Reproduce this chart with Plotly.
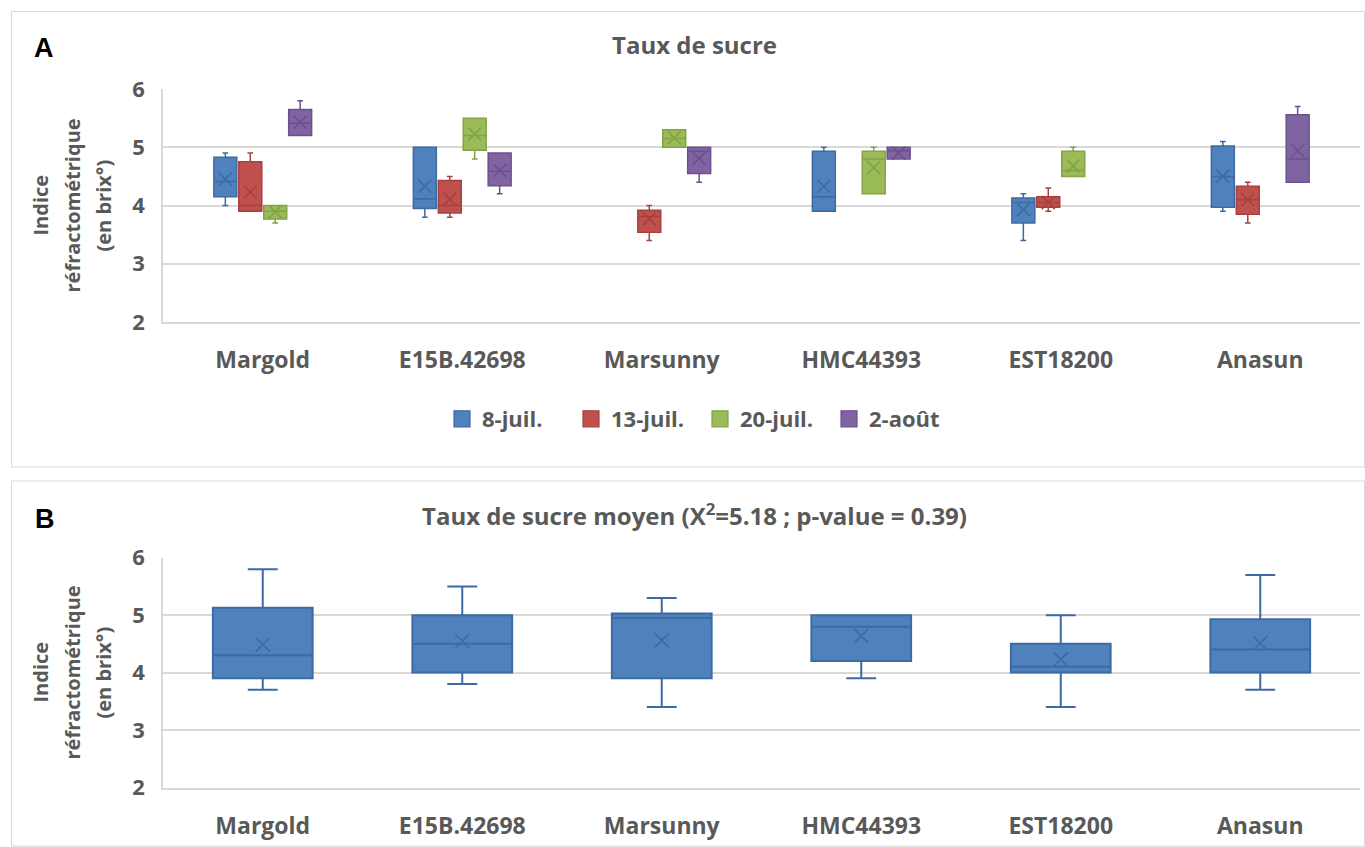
import plotly.graph_objects as go

# Cultivars (x categories)
cultivars = ["Margold", "E15B.42698", "Marsunny", "HMC44393", "EST18200", "Anasun"]

# Panel A: one series per sampling date (brix° summary statistics)
dates = ["8-juil.", "13-juil.", "20-juil.", "2-août"]

juil8_x = ["Margold", "E15B.42698", "HMC44393", "EST18200", "Anasun"]
juil8_min = [4.0, 3.8, 3.9, 3.4, 3.9]
juil8_q1 = [4.15, 3.95, 3.9, 3.7, 3.97]
juil8_med = [4.41, 4.11, 4.15, 4.05, 4.5]
juil8_q3 = [4.83, 5.0, 4.93, 4.13, 5.02]
juil8_max = [4.9, 5.0, 5.0, 4.2, 5.1]
juil8_mean = [4.45, 4.33, 4.33, 3.93, 4.5]

juil13_x = ["Margold", "E15B.42698", "Marsunny", "EST18200", "Anasun"]
juil13_min = [3.9, 3.8, 3.4, 3.9, 3.7]
juil13_q1 = [3.9, 3.87, 3.54, 3.97, 3.85]
juil13_med = [4.0, 4.0, 3.81, 4.05, 4.1]
juil13_q3 = [4.75, 4.43, 3.92, 4.15, 4.33]
juil13_max = [4.9, 4.5, 4.0, 4.3, 4.4]
juil13_mean = [4.23, 4.11, 3.77, 4.05, 4.1]

juil20_x = ["Margold", "E15B.42698", "Marsunny", "HMC44393", "EST18200"]
juil20_min = [3.7, 4.8, 5.0, 4.2, 4.5]
juil20_q1 = [3.77, 4.95, 5.0, 4.2, 4.5]
juil20_med = [3.9, 5.2, 5.15, 4.8, 4.6]
juil20_q3 = [4.0, 5.5, 5.3, 4.93, 4.93]
juil20_max = [4.0, 5.5, 5.3, 5.0, 5.0]
juil20_mean = [3.89, 5.23, 5.16, 4.65, 4.68]

aout2_x = ["Margold", "E15B.42698", "Marsunny", "HMC44393", "Anasun"]
aout2_min = [5.2, 4.2, 4.4, 4.8, 4.4]
aout2_q1 = [5.2, 4.34, 4.55, 4.8, 4.4]
aout2_med = [5.41, 4.59, 4.93, 4.94, 4.8]
aout2_q3 = [5.65, 4.9, 5.0, 5.0, 5.56]
aout2_max = [5.8, 4.9, 5.0, 5.0, 5.7]
aout2_mean = [5.43, 4.6, 4.81, 4.9, 4.94]

# Panel B: all dates pooled per cultivar
moy_min = [3.7, 3.8, 3.4, 3.9, 3.4, 3.7]
moy_q1 = [3.9, 4.0, 3.9, 4.2, 4.0, 4.0]
moy_med = [4.3, 4.5, 4.95, 4.8, 4.1, 4.4]
moy_q3 = [5.13, 5.0, 5.03, 5.0, 4.5, 4.93]
moy_max = [5.8, 5.5, 5.3, 5.0, 5.0, 5.7]
moy_mean = [4.49, 4.55, 4.56, 4.64, 4.23, 4.51]

fills = ["#4F81BD", "#C0504D", "#9BBB59", "#8064A2"]
edges = ["#3D6AA2", "#A8413E", "#83A346", "#6A518D"]

series = [
    (juil8_x, juil8_min, juil8_q1, juil8_med, juil8_q3, juil8_max, juil8_mean),
    (juil13_x, juil13_min, juil13_q1, juil13_med, juil13_q3, juil13_max, juil13_mean),
    (juil20_x, juil20_min, juil20_q1, juil20_med, juil20_q3, juil20_max, juil20_mean),
    (aout2_x, aout2_min, aout2_q1, aout2_med, aout2_q3, aout2_max, aout2_mean),
]

W, H = 1365, 847
GREY = "#595959"
FONT = "Open Sans"

fig = go.Figure()

for i, (xs, lo, q1, med, q3, hi, mean) in enumerate(series):
    fig.add_trace(go.Box(
        x=xs, lowerfence=lo, q1=q1, median=med, q3=q3, upperfence=hi,
        boxpoints=False, fillcolor=fills[i], line=dict(color=edges[i], width=1.5),
        whiskerwidth=0.25, name=dates[i], showlegend=False,
        offsetgroup=f"g{i}", alignmentgroup="dates",
        xaxis="x", yaxis="y", hoverinfo="skip",
    ))
    fig.add_trace(go.Scatter(
        x=xs, y=mean, mode="markers",
        offsetgroup=f"g{i}", alignmentgroup="dates",
        marker=dict(symbol="x-thin", size=13, line=dict(color=edges[i], width=1.6)),
        showlegend=False, xaxis="x", yaxis="y", hoverinfo="skip",
    ))
    # legend entry (filled square)
    fig.add_trace(go.Scatter(
        x=[None], y=[None], mode="markers", name=dates[i],
        marker=dict(symbol="square", size=16, color=fills[i],
                    line=dict(color=edges[i], width=1.2)),
        xaxis="x", yaxis="y",
    ))

fig.add_trace(go.Box(
    x=cultivars, lowerfence=moy_min, q1=moy_q1, median=moy_med, q3=moy_q3,
    upperfence=moy_max, boxpoints=False, width=0.5, whiskerwidth=0.3,
    fillcolor=fills[0], line=dict(color=edges[0], width=2),
    showlegend=False, xaxis="x2", yaxis="y2", hoverinfo="skip",
))
fig.add_trace(go.Scatter(
    x=cultivars, y=moy_mean, mode="markers",
    marker=dict(symbol="x-thin", size=14, line=dict(color=edges[0], width=1.6)),
    showlegend=False, xaxis="x2", yaxis="y2", hoverinfo="skip",
))


def px_x(v):
    return v / W


def px_y(v):
    return 1 - v / H


xdom = [px_x(163), px_x(1360)]
ya_dom = [px_y(322), px_y(89)]
yb_dom = [px_y(787.5), px_y(557.7)]

tick_font = dict(family=FONT, size=22, color=GREY, weight="bold")
cat_font = dict(family=FONT, size=23, color=GREY, weight="bold")

xaxis_common = dict(
    type="category", categoryorder="array", categoryarray=cultivars,
    range=[-0.5, 5.5], showgrid=False, zeroline=False, showline=True,
    linecolor="#D9D9D9", linewidth=1.5, ticks="", tickfont=cat_font,
    ticklabelstandoff=17, fixedrange=True, automargin=False,
)
yaxis_common = dict(
    range=[2, 6], dtick=1, tick0=2, showgrid=True, gridcolor="#D9D9D9",
    gridwidth=1.5, zeroline=False, showline=True, linecolor="#D9D9D9",
    linewidth=1.5, ticks="", tickfont=tick_font, ticklabelstandoff=12,
    fixedrange=True, automargin=False,
)

fig.update_layout(
    width=W, height=H, autosize=False,
    margin=dict(l=0, r=0, t=0, b=0, autoexpand=False),
    paper_bgcolor="white", plot_bgcolor="white",
    boxmode="group", boxgap=0.5, boxgroupgap=0.08,
    scattermode="group", scattergap=0.5,
    xaxis=dict(domain=xdom, anchor="y", **xaxis_common),
    yaxis=dict(domain=ya_dom, anchor="x", **yaxis_common),
    xaxis2=dict(domain=xdom, anchor="y2", **xaxis_common),
    yaxis2=dict(domain=yb_dom, anchor="x2", **yaxis_common),
    legend=dict(
        orientation="h", x=px_x(700), y=px_y(419), xanchor="center",
        yanchor="middle", font=dict(family=FONT, size=22, color=GREY, weight="bold"),
        entrywidth=84, entrywidthmode="pixels",
        bgcolor="rgba(0,0,0,0)", itemclick=False, itemdoubleclick=False,
    ),
    showlegend=True,
)

# Panel frames
frame = dict(type="rect", xref="paper", yref="paper",
             line=dict(color="#D9D9D9", width=1), fillcolor="rgba(0,0,0,0)")
fig.add_shape(x0=px_x(11.5), x1=px_x(1364.5), y0=px_y(467), y1=px_y(11.5), **frame)
fig.add_shape(x0=px_x(11.5), x1=px_x(1364.5), y0=px_y(846), y1=px_y(481), **frame)

centered = dict(xref="paper", yref="paper", showarrow=False,
                xanchor="center", yanchor="middle")

# Titles and panel letters
title_font = dict(family=FONT, size=24, color=GREY, weight="bold")
fig.add_annotation(text="Taux de sucre", x=px_x(694), y=px_y(44),
                   font=title_font, **centered)
fig.add_annotation(text="Taux de sucre moyen (X<sup>2</sup>=5.18 ; p-value = 0.39)",
                   x=px_x(694), y=px_y(514), font=title_font, **centered)
letter_font = dict(family="Liberation Sans", size=27, color="black", weight="bold")
fig.add_annotation(text="A", x=px_x(44), y=px_y(48), font=letter_font, **centered)
fig.add_annotation(text="B", x=px_x(45), y=px_y(519), font=letter_font, **centered)

# Vertical axis titles, one annotation per line
ytitle_lines = ["Indice", "réfractométrique", "(en brix°)"]
ytitle_x = [40, 72, 103]
ytitle_font = dict(family=FONT, size=20, color=GREY, weight="bold")
for yc in (205.5, 672.5):
    for line, xc in zip(ytitle_lines, ytitle_x):
        fig.add_annotation(text=line, x=px_x(xc), y=px_y(yc), textangle=-90,
                           font=ytitle_font, **centered)

fig.write_html("out.html")
